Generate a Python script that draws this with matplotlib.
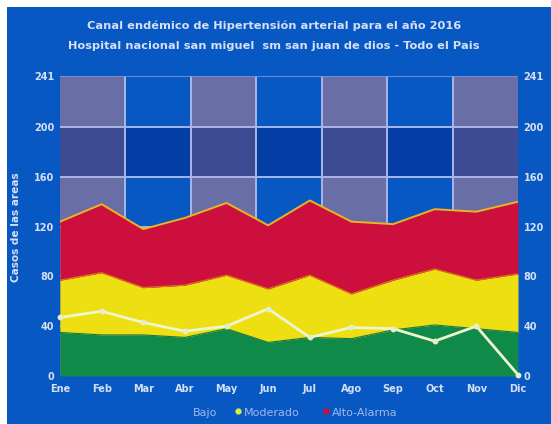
import matplotlib
matplotlib.use("Agg")
import matplotlib.pyplot as plt
from matplotlib.patches import Rectangle
import numpy as np

meses = ["Ene", "Feb", "Mar", "Abr", "May", "Jun", "Jul", "Ago", "Sep", "Oct", "Nov", "Dic"]
bajo = [35, 33, 33, 31, 38, 27, 31, 30, 37, 41, 38, 35]
moderado = [77, 83, 71, 73, 81, 70, 81, 66, 77, 86, 77, 82]
alto = [124, 138, 118, 127, 139, 121, 141, 124, 122, 134, 132, 140]
casos = [47, 52, 43, 36, 40, 54, 31, 39, 38, 28, 40, 1]
yticks = [0, 40, 80, 120, 160, 200, 241]

BG = "#0858c4"
TXT = "#d6e0f4"

fig = plt.figure(figsize=(5.51, 4.24), dpi=100, facecolor="white")
bgrect = Rectangle((7 / 551, 0), 1, 1 - 7 / 424, transform=fig.transFigure,
                   facecolor=BG, edgecolor="none", zorder=-10)
fig.patches.append(bgrect)

ax = fig.add_axes([60 / 551, 48 / 424, 458 / 551, 300 / 424])
ax.set_zorder(1)
ax.set_facecolor(BG)
x = np.arange(len(meses))
ax.set_xlim(0, len(meses) - 1)
ax.set_ylim(0, 241)

# background bands
nb = 7
w = (len(meses) - 1) / nb
for i in range(nb):
    if i % 2 == 0:
        ax.axvspan(i * w, (i + 1) * w, color="#6a6ea6", lw=0, zorder=0)
ax.axhspan(160, 200, color="#001c78", alpha=0.42, lw=0, zorder=0.5)
for i in range(1, nb):
    ax.axvline(i * w, color="#a9b6e6", lw=1.4, zorder=0.8)
for yv in [40, 80, 120, 160, 200]:
    ax.axhline(yv, color="#a9b6e6", lw=1.4, zorder=0.8)
ax.axhline(241, color="#7f94d8", lw=1.2, zorder=0.8)

zero = np.zeros(len(meses))
ax.fill_between(x, zero, bajo, color="#0f8a48", lw=0, zorder=1)
ax.fill_between(x, bajo, moderado, color="#eedf12", lw=0, zorder=1)
ax.fill_between(x, moderado, alto, color="#cc0f3c", lw=0, zorder=1)
ax.plot(x, moderado, color="#e06a1c", lw=1.0, zorder=1.5)
ax.plot(x, alto, color="#e8b420", lw=1.4, zorder=1.5)
ax.plot(x, bajo, color="#1a7a40", lw=0.8, zorder=1.5)

ax.plot(x, casos, color="#eef6d0", lw=2.0, marker="o", ms=3.2,
        mfc="#e6eec8", mec="#e6eec8", zorder=3, clip_on=False)

for s in ax.spines.values():
    s.set_visible(False)
ax.set_xticks(x)
ax.set_xticklabels(meses)
ax.set_yticks(yticks)
ax.tick_params(axis="both", length=0, colors=TXT, labelsize=7)
ax.tick_params(axis="y", pad=4, labelright=True)
for lab in ax.get_xticklabels():
    lab.set_fontweight("bold")
for lab in ax.yaxis.get_majorticklabels():
    lab.set_fontweight("bold")
ax.tick_params(axis="x", pad=6)

fig.text(274 / 551, 1 - 26 / 424, "Canal endémico de Hipertensión arterial para el año 2016",
         ha="center", va="center", color=TXT, fontsize=8.2, fontweight="bold")
fig.text(274 / 551, 1 - 46 / 424, "Hospital nacional san miguel  sm san juan de dios - Todo el Pais",
         ha="center", va="center", color=TXT, fontsize=8.2, fontweight="bold")
fig.text(16 / 551, 1 - 227 / 424, "Casos de las areas", rotation=90, ha="center", va="center",
         color=TXT, fontsize=7.6, fontweight="bold")

# legend
ly = 1 - 413 / 424
LEG = "#9fb8ea"
fig.text(193 / 551, ly, "Bajo", ha="left", va="center", color=LEG, fontsize=8)
fig.add_artist(plt.Line2D([238 / 551], [ly + 0.004], marker="o", ms=3.5, color="#d8ee40",
                          transform=fig.transFigure))
fig.text(244 / 551, ly, "Moderado", ha="left", va="center", color=LEG, fontsize=8)
fig.add_artist(plt.Line2D([326 / 551], [ly + 0.004], marker="o", ms=3.5, color="#cc0f3c",
                          transform=fig.transFigure))
fig.text(332 / 551, ly, "Alto-Alarma", ha="left", va="center", color=LEG, fontsize=8)

fig.savefig("out.png", dpi=100, facecolor="white")
